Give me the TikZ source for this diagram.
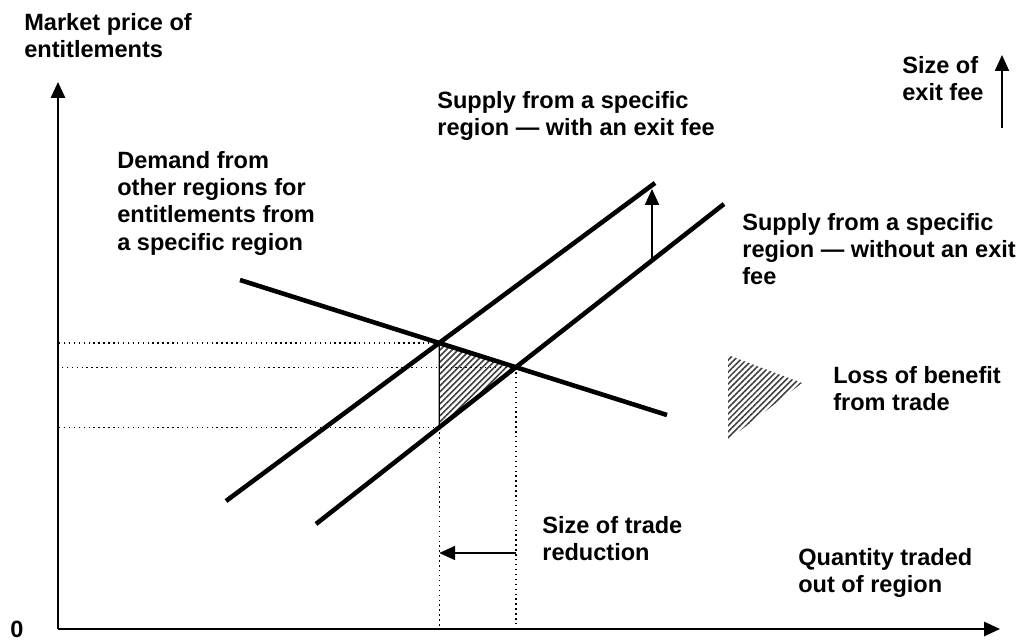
\documentclass[tikz,border=0pt]{standalone}
\usepackage{fontspec}
\setmainfont{Liberation Sans}
\usetikzlibrary{arrows.meta,patterns.meta}

\begin{document}
\begin{tikzpicture}[x=0.02cm,y=-0.02cm,
		txt/.style={align=left, anchor=north west, inner sep=0pt, font=\bfseries\fontsize{13.4}{15.5}\selectfont},
		curve/.style={line width=2.6pt},
		axis/.style={line width=1.3pt, -{Triangle[length=9pt,width=8pt]}},
		marker/.style={line width=0.8pt, -{Triangle[length=9pt,width=8pt]}},
		guide/.style={dotted, line width=0.8pt},
		hatch/.style={pattern={Lines[angle=45,distance=2.4pt,line width=0.9pt]}, pattern color=black!75},
	]
		\useasboundingbox (0,0) rectangle (1021,641);

		% points
		\coordinate (origin) at (58,629);
		\coordinate (ytop)   at (58,82);
		\coordinate (xend)   at (1000,629);
		\coordinate (dA) at (240,280);
		\coordinate (dB) at (667,415);
		\coordinate (fA) at (226,501);
		\coordinate (fB) at (655,183);
		\coordinate (sA) at (316,524);
		\coordinate (sB) at (724,204);
		\coordinate (withfee) at (intersection of dA--dB and fA--fB);
		\coordinate (nofee)   at (intersection of dA--dB and sA--sB);
		\coordinate (aux)     at (withfee |- origin);
		\coordinate (lowfee)  at (intersection of withfee--aux and sA--sB);
		\coordinate (cutlevel) at (0,553);
		\coordinate (shiftfoot) at (652,261);
		\coordinate (shifttip)  at (652,189);
		\coordinate (feefoot) at (1002,128);
		\coordinate (feetip)  at (1002,55);
		\coordinate (keyA) at (728,355);
		\coordinate (keyB) at (802,383);
		\coordinate (keyC) at (728,440);

		% shading
		\fill[hatch] (withfee) -- (nofee) -- (lowfee) -- cycle;
		\fill[hatch] (keyA) -- (keyB) -- (keyC) -- cycle;

		% nodes
		\node[txt] (price)  at (24,13)   {Market price of\\entitlements};
		\node[txt] (feesup) at (437,91)  {Supply from a specific\\region --- with an exit fee};
		\node[txt] (demand) at (117,151) {Demand from\\other regions for\\entitlements from\\a specific region};
		\node[txt] (nosup)  at (742,213) {Supply from a specific\\region --- without an exit\\fee};
		\node[txt] (loss)   at (833,366) {Loss of benefit\\from trade};
		\node[txt] (cut)    at (542,516) {Size of trade\\reduction};
		\node[txt] (qty)    at (798,548) {Quantity traded\\out of region};
		\node[txt] (feesize) at (902,56) {Size of\\exit fee};
		\node[txt] (zero)   at (10,621)  {0};

		% lines
		\draw[guide] (withfee) -- (withfee -| origin);
		\draw[guide] (nofee) -- (nofee -| origin);
		\draw[guide] (lowfee) -- (lowfee -| origin);
		\draw[guide] (lowfee) -- (lowfee |- origin);
		\draw[guide] (nofee) -- (nofee |- origin);
		\draw[line width=0.8pt] (withfee) -- (lowfee);
		\draw[curve] (dA) -- (dB);
		\draw[curve] (fA) -- (fB);
		\draw[curve] (sA) -- (sB);
		\draw[axis] (origin) -- (ytop);
		\draw[axis] (origin) -- (xend);
		\draw[marker] (shiftfoot) -- (shifttip);
		\draw[marker] (feefoot) -- (feetip);
		\draw[marker] (nofee |- cutlevel) -- (lowfee |- cutlevel);

	\end{tikzpicture}
\end{document}
